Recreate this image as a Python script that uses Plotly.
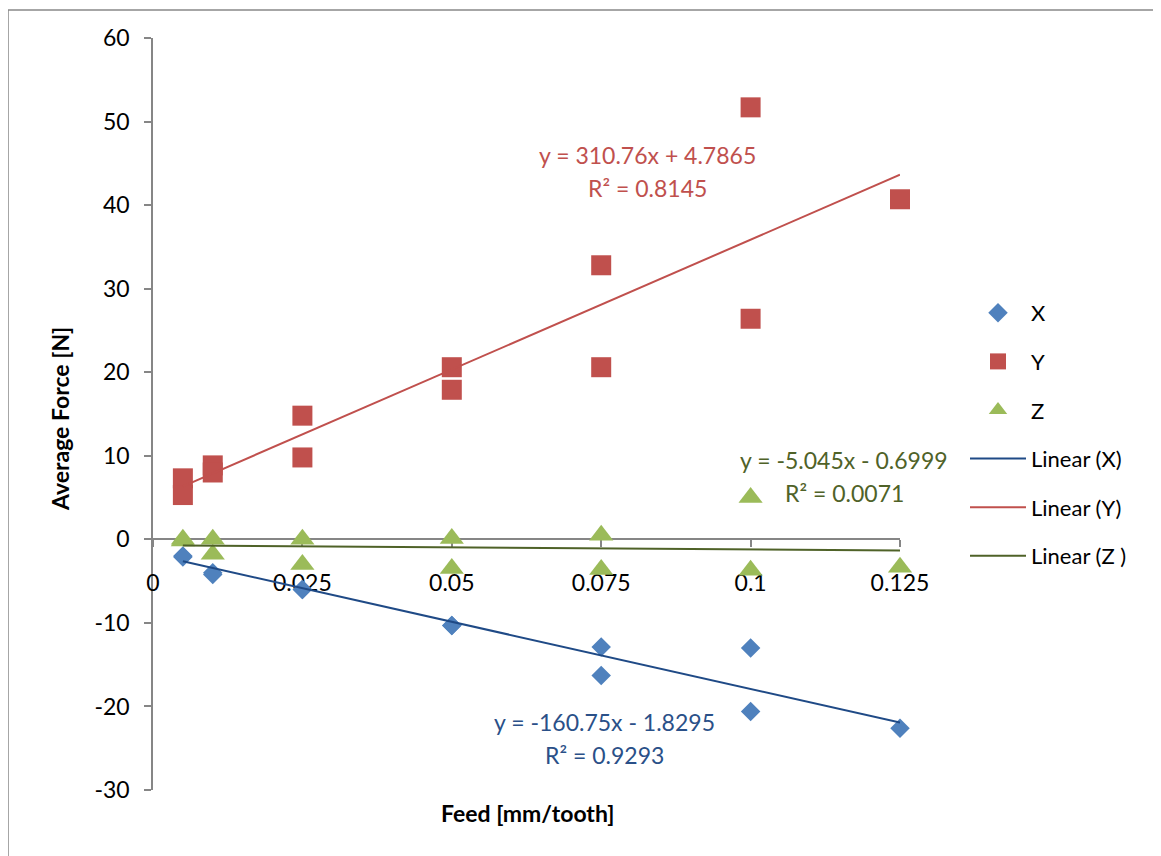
import plotly.graph_objects as go

# ---- data ----
feed = [0.005, 0.005, 0.01, 0.01, 0.025, 0.025, 0.05, 0.05, 0.075, 0.075, 0.1, 0.1, 0.125]
force_x = [-2.0, -2.1, -4.0, -4.2, -6.0, -6.0, -10.3, -10.3, -12.9, -16.3, -13.0, -20.6, -22.6]
force_y = [7.3, 5.3, 8.85, 8.0, 14.8, 9.8, 20.6, 17.9, 32.8, 20.6, 51.7, 26.4, 40.7]
force_z = [0.0, -0.2, 0.0, -1.8, 0.0, -3.0, 0.1, -3.5, 0.5, -3.6, 5.0, -3.7, -3.35]

series_names = ["X", "Y", "Z"]
trend_names = ["Linear (X)", "Linear (Y)", "Linear (Z )"]
slopes = [-160.75, 310.76, -5.045]
intercepts = [-1.8295, 4.7865, -0.6999]
eq_text = ["y = -160.75x - 1.8295", "y = 310.76x + 4.7865", "y = -5.045x - 0.6999"]
r2_text = ["R² = 0.9293", "R² = 0.8145", "R² = 0.0071"]
trend_x = [0.005, 0.125]

x_ticks = [0, 0.025, 0.05, 0.075, 0.1, 0.125]
x_tick_labels = ["0", "0.025", "0.05", "0.075", "0.1", "0.125"]
y_ticks = [-30, -20, -10, 0, 10, 20, 30, 40, 50, 60]
y_tick_labels = ["-30", "-20", "-10", "0", "10", "20", "30", "40", "50", "60"]

# ---- styling ----
FONT = "Lato, Calibri, Carlito, sans-serif"
marker_colors = ["#4F81BD", "#C0504D", "#9BBB59"]
trend_colors = ["#1F4A86", "#C0504D", "#4F6228"]
text_colors = ["#2A5088", "#C0504D", "#4F6228"]
symbols = ["diamond", "square", "triangle-up"]
sizes = [15, 20, 21]
AX = "#868686"

OFF = 8  # page body margin of the html page
W, H = 1161 - OFF, 856 - OFF
ML, MT = 153 - OFF, 38 - OFF
MR = W - (900 - OFF)
MB = H - (790 - OFF)
PW, PH = W - ML - MR, H - MT - MB

fig = go.Figure()
for i, (name, vals) in enumerate(zip(series_names, [force_x, force_y, force_z])):
    fig.add_trace(go.Scatter(
        x=feed, y=vals, mode="markers", name=name, legendgroup=name,
        marker=dict(symbol=symbols[i], size=sizes[i], color=marker_colors[i],
                    line=dict(width=0)),
        cliponaxis=False,
    ))
for i, name in enumerate(trend_names):
    ty = [slopes[i] * xv + intercepts[i] for xv in trend_x]
    fig.add_trace(go.Scatter(
        x=trend_x, y=ty, mode="lines", name=name, legendgroup=name,
        line=dict(color=trend_colors[i], width=2),
        cliponaxis=False,
    ))

# page-pixel -> data helpers
def px_to_x(px):
    return (px - OFF - ML) / PW * 0.125

def py_to_y(py):
    return 60 - (py - OFF - MT) / PH * 90

def px_to_paper(px):
    return (px - OFF - ML) / PW

def py_to_paper(py):
    return 1 - (py - OFF - MT) / PH

# equation labels (centre page-pixel positions)
label_pos = [(604, 722, 755), (647, 155, 188), (844, 460, 493)]
annotations = []
for i, (cx, y1, y2) in enumerate(label_pos):
    for txt, py in ((eq_text[i], y1), (r2_text[i], y2)):
        annotations.append(dict(
            x=px_to_x(cx), y=py_to_y(py), xref="x", yref="y", text=txt,
            showarrow=False, xanchor="center", yanchor="middle",
            font=dict(family=FONT, size=23, color=text_colors[i]),
        ))

annotations.append(dict(
    x=px_to_paper(60), y=py_to_paper(419), xref="paper", yref="paper",
    text="<b>Average Force [N]</b>", textangle=-90, showarrow=False,
    xanchor="center", yanchor="middle",
    font=dict(family=FONT, size=23, color="#000000"),
))
annotations.append(dict(
    x=px_to_paper(527), y=py_to_paper(813), xref="paper", yref="paper",
    text="<b>Feed [mm/tooth]</b>", showarrow=False,
    xanchor="center", yanchor="middle",
    font=dict(family=FONT, size=23, color="#000000"),
))

fig.update_layout(
    width=W, height=H,
    margin=dict(l=ML, r=MR, t=MT, b=MB, autoexpand=False),
    paper_bgcolor="white", plot_bgcolor="white",
    font=dict(family=FONT, size=22, color="#000000"),
    showlegend=True,
    legend=dict(
        x=px_to_paper(965), y=py_to_paper(292), xanchor="left", yanchor="top",
        traceorder="grouped", tracegroupgap=17, itemwidth=56,
        font=dict(family=FONT, size=22, color="#000000"),
        bgcolor="rgba(0,0,0,0)",
    ),
    annotations=annotations,
    shapes=[dict(
        type="rect", xref="paper", yref="paper",
        x0=px_to_paper(8), x1=px_to_paper(1180),
        y0=py_to_paper(880), y1=py_to_paper(10),
        line=dict(color="#898989", width=1.5), fillcolor="rgba(0,0,0,0)",
        layer="below",
    )],
    xaxis=dict(
        range=[0, 0.125], tickvals=x_ticks, ticktext=x_tick_labels,
        showgrid=False, zeroline=False, showline=True, linecolor=AX, linewidth=1.5,
        ticks="outside", ticklen=7, tickcolor=AX, tickwidth=1.5,
        anchor="free", position=30 / 90, layer="below traces",
        tickfont=dict(family=FONT, size=23, color="#000000"),
        ticklabelstandoff=16,
    ),
    yaxis=dict(
        range=[-30, 60], tickvals=y_ticks, ticktext=y_tick_labels,
        showgrid=False, zeroline=False, showline=True, linecolor=AX, linewidth=1.5,
        ticks="outside", ticklen=7, tickcolor=AX, tickwidth=1.5,
        layer="below traces",
        tickfont=dict(family=FONT, size=23, color="#000000"),
        ticklabelstandoff=10,
    ),
)

fig.write_html("out.html")
